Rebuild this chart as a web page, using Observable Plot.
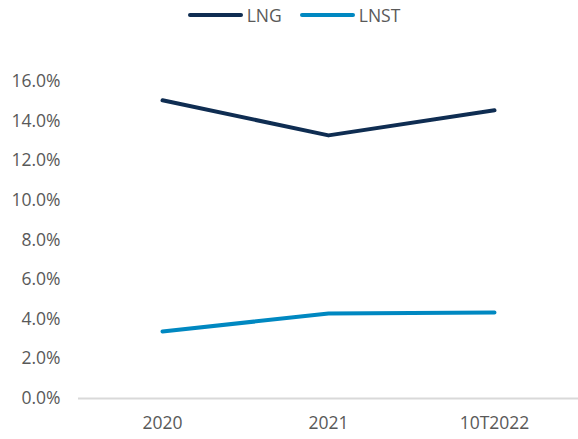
<!DOCTYPE html>
<html>
<head>
<meta charset="utf-8">
<script src="https://cdn.jsdelivr.net/npm/d3@7"></script>
<script src="https://cdn.jsdelivr.net/npm/@observablehq/plot@0.6"></script>
<style>
  body { margin: 0; background: #fff; font-family: "Open Sans", sans-serif; }
  #legend { height: 30px; display: flex; justify-content: center; align-items: center; gap: 18px; font-size: 17.5px; color: #595959; padding-left: 10px; box-sizing: border-box; }
  .item { display: flex; align-items: center; gap: 4px; }
  .sw { width: 55px; height: 4px; border-radius: 2px; }
</style>
</head>
<body>
<div id="legend"></div>
<div id="chart"></div>
<script>
const categories = ["2020", "2021", "10T2022"];
const seriesNames = ["LNG", "LNST"];
const lngValues = [15.05, 13.28, 14.55];
const lnstValues = [3.38, 4.29, 4.34];
const colors = ["#0f2d52", "#0088c1"];
const yTicks = [0, 2, 4, 6, 8, 10, 12, 14, 16];

const data = [];
categories.forEach((c, i) => {
  data.push({cat: c, series: "LNG", value: lngValues[i]});
  data.push({cat: c, series: "LNST", value: lnstValues[i]});
});

const legend = document.getElementById("legend");
seriesNames.forEach((s, i) => {
  const it = document.createElement("div");
  it.className = "item";
  it.innerHTML = `<span class="sw" style="background:${colors[i]}"></span><span>${s}</span>`;
  legend.appendChild(it);
});

const chart = Plot.plot({
  width: 578,
  height: 409,
  marginLeft: 78,
  marginRight: 0,
  marginTop: 51,
  marginBottom: 41,
  style: { fontFamily: "Open Sans, sans-serif", fontSize: "17.5px", color: "#595959", background: "#fff" },
  x: { domain: categories, type: "band", padding: 0, label: null, tickSize: 0, tickPadding: 18 },
  y: { domain: [0, 16], ticks: yTicks, label: null, tickSize: 0, tickPadding: 18, tickFormat: d => d.toFixed(1) + "%" },
  color: { domain: seriesNames, range: colors },
  marks: [
    Plot.ruleY([0], { stroke: "#d9d9d9", strokeWidth: 2 }),
    Plot.line(data, { x: "cat", y: "value", z: "series", stroke: "series", strokeWidth: 4, strokeLinecap: "round", strokeLinejoin: "round" })
  ]
});
document.getElementById("chart").appendChild(chart);
</script>
</body>
</html>
